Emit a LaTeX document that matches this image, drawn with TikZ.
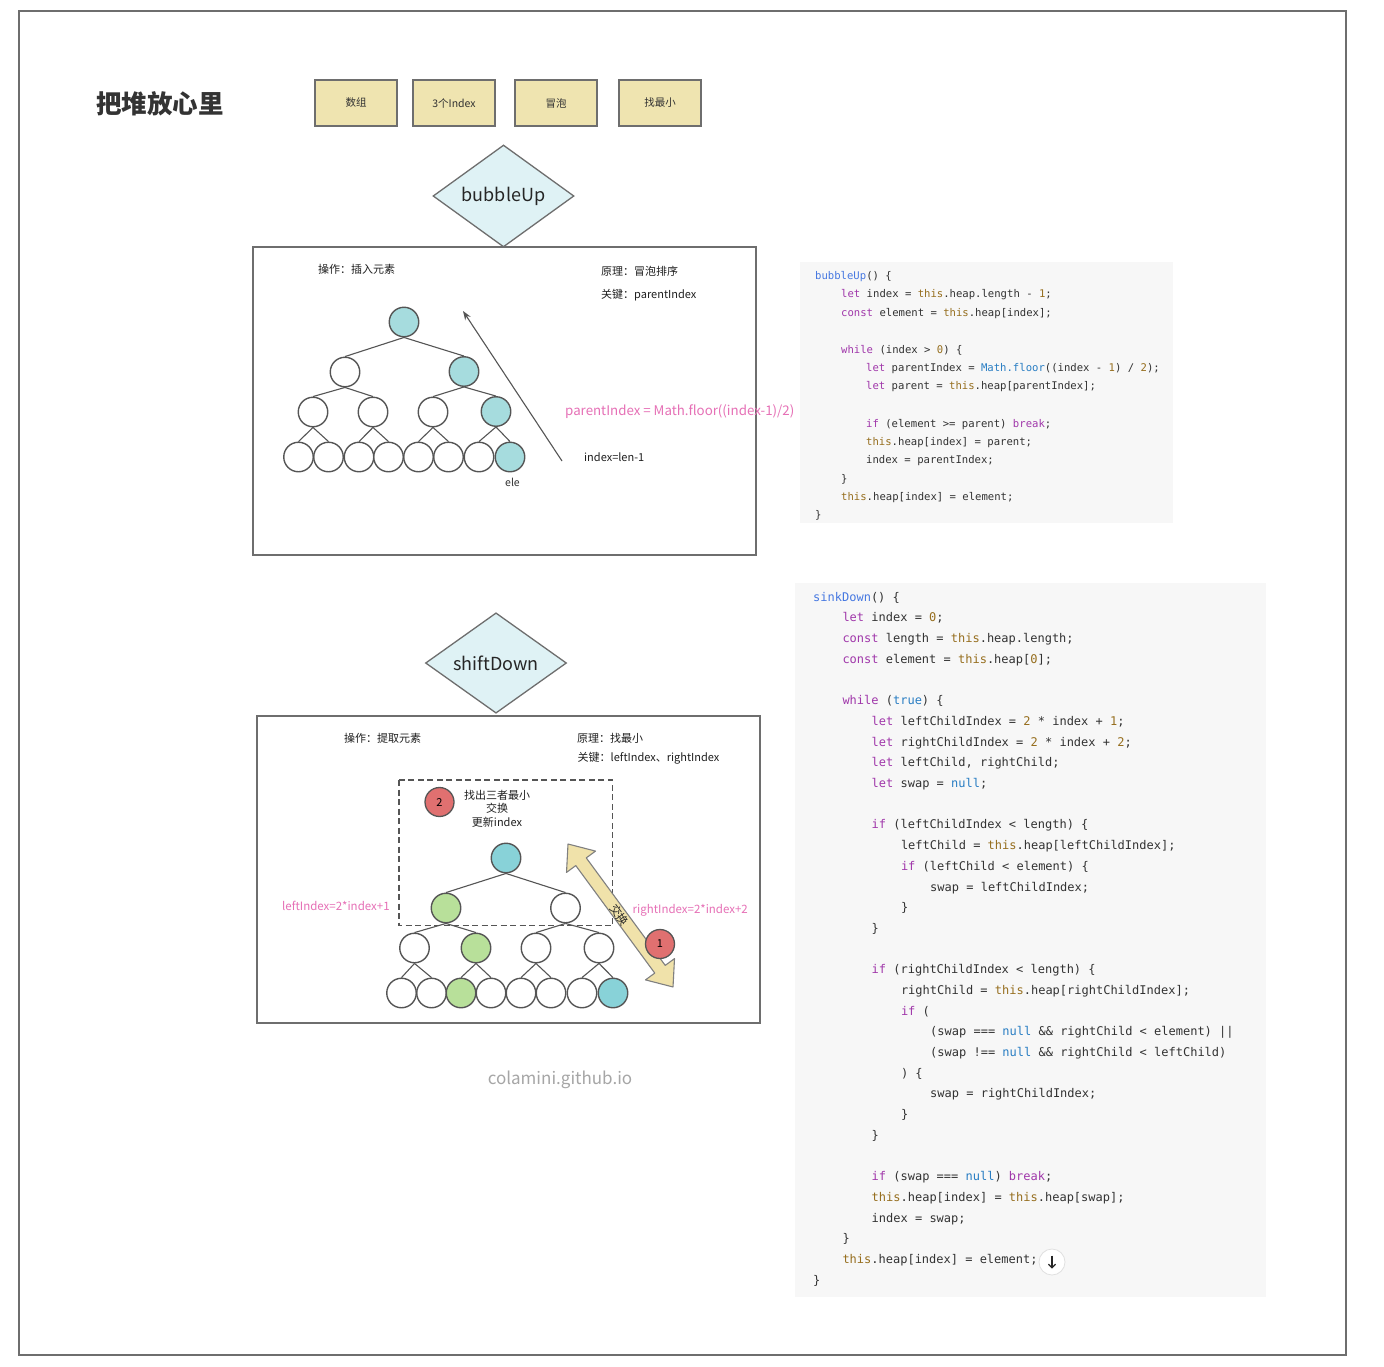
\documentclass[tikz,border=0pt]{standalone}
\usepackage{fontspec}
\setmainfont{Noto Sans CJK SC}
\newfontfamily\codefont{DejaVu Sans Mono}
\usetikzlibrary{shapes.geometric,arrows.meta}
\definecolor{frame}{RGB}{110,110,110}
\definecolor{ybox}{RGB}{239,228,176}
\definecolor{dia}{RGB}{223,242,245}
\definecolor{cyanA}{RGB}{166,220,222}
\definecolor{cyanB}{RGB}{136,210,216}
\definecolor{greenA}{RGB}{184,224,154}
\definecolor{redA}{RGB}{224,112,112}
\definecolor{pinkA}{RGB}{230,112,182}
\definecolor{arrowfill}{RGB}{240,226,170}
\definecolor{codebg}{RGB}{247,247,247}
\definecolor{ctext}{RGB}{50,50,50}
\definecolor{ckw}{RGB}{160,55,170}
\definecolor{cth}{RGB}{150,110,30}
\definecolor{cbl}{RGB}{40,125,195}
\definecolor{cfn}{RGB}{70,120,225}
\definecolor{lgray}{RGB}{85,85,85}
\newcommand\kw[1]{\textcolor{ckw}{#1}}
\newcommand\cth[1]{\textcolor{cth}{#1}}
\newcommand\cbl[1]{\textcolor{cbl}{#1}}
\newcommand\cfn[1]{\textcolor{cfn}{#1}}
\tikzset{
  ybx/.style={draw=frame, line width=1.4pt, fill=ybox, minimum width=82pt, minimum height=46pt, inner sep=0pt, font=\fontsize{10.5}{12}\selectfont, text=ctext},
  dmd/.style={diamond, draw=frame, line width=1.3pt, fill=dia, minimum width=141pt, minimum height=100pt, inner sep=0pt, font=\fontsize{18}{20}\selectfont, text=black!85},
  panel/.style={draw=frame, line width=1.6pt, inner sep=0pt},
  lbl/.style={anchor=west, inner sep=0pt, font=\fontsize{11}{13}\selectfont, text=black!88},
  pk/.style={anchor=west, inner sep=0pt, text=pinkA},
  hn/.style={circle, draw=lgray, line width=1.4pt, minimum size=29.5pt, inner sep=0pt, fill=white},
  hedge/.style={draw=lgray, line width=1.1pt},
  rn/.style={circle, draw=lgray, line width=1.3pt, minimum size=29pt, inner sep=0pt, fill=redA, font=\fontsize{11}{12}\selectfont},
  codeA/.style={anchor=base west, inner sep=0pt, text=ctext, font=\codefont\fontsize{10.6}{12}\selectfont},
  codeB/.style={anchor=base west, inner sep=0pt, text=ctext, font=\codefont\fontsize{12}{14}\selectfont},
}
\begin{document}
\begin{tikzpicture}[x=1pt,y=-1pt]
\useasboundingbox (0,0) rectangle (1384,1366);
\fill[white] (0,0) rectangle (1384,1366);
\draw[frame, line width=1.6pt] (19,11) rectangle (1346,1355);

% title and boxes
\node[inner sep=0pt, font=\fontsize{25.5}{28}\selectfont\bfseries, text=black!80] (title) at (160,104) {把堆放心里};
\node[ybx] (k1) at (356,103) {数组};
\node[ybx] (k2) at (454,103) {3个Index};
\node[ybx] (k3) at (556,103) {冒泡};
\node[ybx] (k4) at (660,103) {找最小};

% ---------- bubbleUp ----------
\node[panel, minimum width=503pt, minimum height=308pt] (box1) at (504.5,401) {};
\node[dmd] (bu) at (503.5,196) {bubbleUp};
\node[lbl] (op1) at (318,269.5) {操作：插入元素};
\node[lbl] (pr1) at (601,271.5) {原理：冒泡排序};
\node[lbl] (key1) at (601,295) {关键：parentIndex};

\node[hn, fill=cyanA] (a1) at (404,322) {};
\node[hn] (b1) at (345,372) {};
\node[hn, fill=cyanA] (b2) at (464,371.5) {};
\node[hn] (c1) at (313,412) {};
\node[hn] (c2) at (373,412) {};
\node[hn] (c3) at (433,412) {};
\node[hn, fill=cyanA] (c4) at (496,411.5) {};
\node[hn] (d1) at (298.5,457) {};
\node[hn] (d2) at (328.5,457) {};
\node[hn] (d3) at (359,457) {};
\node[hn] (d4) at (388.5,457) {};
\node[hn] (d5) at (418.5,457) {};
\node[hn] (d6) at (448.5,457) {};
\node[hn] (d7) at (479,457) {};
\node[hn, fill=cyanA] (d8) at (510,457) {};
\foreach \p/\c in {a1/b1,a1/b2,b1/c1,b1/c2,b2/c3,b2/c4,c1/d1,c1/d2,c2/d3,c2/d4,c3/d5,c3/d6,c4/d7,c4/d8}
  \draw[hedge] (\p.south) -- (\c.north);
\node[inner sep=0pt, font=\fontsize{10.5}{12}\selectfont, text=black!80] (ele) at (512.5,482) {ele};

\coordinate (ptail) at (562,461);
\coordinate (phead) at (463,311);
\draw[draw=lgray, line width=1.1pt, -{Stealth[length=9pt,width=6.5pt]}] (ptail) -- (phead);
\node[pk, font=\fontsize{13.3}{15}\selectfont] (pfl) at (565,412) {parentIndex = Math.floor((index-1)/2)};
\node[lbl] (len1) at (584,457) {index=len-1};

% ---------- shiftDown ----------
\node[panel, minimum width=503pt, minimum height=307pt] (box2) at (508.5,869.5) {};
\node[dmd] (sd) at (496,663) {shiftDown};
\node[lbl] (op2) at (344,738) {操作：提取元素};
\node[lbl] (pr2) at (577,738) {原理：找最小};
\node[lbl] (key2) at (577.5,758) {关键：leftIndex、rightIndex};

\draw[draw=lgray, line width=1.6pt, dash pattern=on 6pt off 3.5pt] (399,780) rectangle (612.5,925.5);
\node[rn] (r2) at (439.5,802) {2};
\node[inner sep=0pt, align=center, font=\fontsize{11}{13.4}\selectfont, text=black!88] (find) at (497,808.5) {找出三者最小\\交换\\更新index};

\node[hn, fill=cyanB] (e1) at (506,858) {};
\node[hn, fill=greenA] (f1) at (446,908) {};
\node[hn] (f2) at (565.5,908) {};
\node[hn] (g1) at (414.5,948) {};
\node[hn, fill=greenA] (g2) at (476,948) {};
\node[hn] (g3) at (536,948) {};
\node[hn] (g4) at (599,948) {};
\node[hn] (h1) at (401.5,993) {};
\node[hn] (h2) at (431.5,993) {};
\node[hn, fill=greenA] (h3) at (461,993) {};
\node[hn] (h4) at (491,993) {};
\node[hn] (h5) at (521,993) {};
\node[hn] (h6) at (551,993) {};
\node[hn] (h7) at (582,993) {};
\node[hn, fill=cyanB] (h8) at (613,993) {};
\foreach \p/\c in {e1/f1,e1/f2,f1/g1,f1/g2,f2/g3,f2/g4,g1/h1,g1/h2,g2/h3,g2/h4,g3/h5,g3/h6,g4/h7,g4/h8}
  \draw[hedge] (\p.south) -- (\c.north);

\node[pk, font=\fontsize{11.5}{13}\selectfont] (lix) at (282,906) {leftIndex=2*index+1};
\node[pk, font=\fontsize{11.5}{13}\selectfont] (rix) at (632.5,910) {rightIndex=2*index+2};

\begin{scope}[shift={(568,844)}, rotate=-53.7]
  \draw[draw=gray, line width=1.1pt, fill=arrowfill, line join=round]
    (0,0) -- (22,18) -- (22,6.5) -- (155.4,6.5) -- (155.4,18) -- (177.4,0)
    -- (155.4,-18) -- (155.4,-6.5) -- (22,-6.5) -- (22,-18) -- cycle;
\end{scope}
\node[inner sep=0pt, rotate=-53.7, font=\fontsize{11.5}{12}\selectfont, text=black!85] (swp) at (619.5,915) {交换};
\node[rn] (r1) at (660,944) {1};

\node[inner sep=0pt, font=\fontsize{17}{19}\selectfont, text=black!35] (foot) at (560,1080) {colamini.github.io};

% ---------- code 1 ----------
\fill[codebg] (800,262) rectangle (1173,523);
\node[codeA] (a01) at (815,279.4) {\cfn{bubbleUp}() \{};
\node[codeA] (a02) at (841,297.7) {\kw{let} index = \cth{this}.heap.length - \cth{1};};
\node[codeA] (a03) at (841,316.4) {\kw{const} element = \cth{this}.heap[index];};
\node[codeA] (a04) at (841,353.0) {\kw{while} (index > \cth{0}) \{};
\node[codeA] (a05) at (866,371.4) {\kw{let} parentIndex = \cbl{Math.floor}((index - \cth{1}) / \cth{2});};
\node[codeA] (a06) at (866,389.7) {\kw{let} parent = \cth{this}.heap[parentIndex];};
\node[codeA] (a07) at (866,427.0) {\kw{if} (element >= parent) \kw{break};};
\node[codeA] (a08) at (866,445.0) {\cth{this}.heap[index] = parent;};
\node[codeA] (a09) at (866,463.4) {index = parentIndex;};
\node[codeA] (a10) at (841,482.0) {\}};
\node[codeA] (a11) at (841,500.4) {\cth{this}.heap[index] = element;};
\node[codeA] (a12) at (815,518.7) {\}};

% ---------- code 2 ----------
\fill[codebg] (795,583) rectangle (1266,1297);
\node[codeB] (s00) at (813,601.2) {\cfn{sinkDown}() \{};
\node[codeB] (s01) at (842.3,621.9) {\kw{let} index = \cth{0};};
\node[codeB] (s02) at (842.3,642.6) {\kw{const} length = \cth{this}.heap.length;};
\node[codeB] (s03) at (842.3,663.3) {\kw{const} element = \cth{this}.heap[\cth{0}];};
\node[codeB] (s05) at (842.3,704.7) {\kw{while} (\cbl{true}) \{};
\node[codeB] (s06) at (871.5,725.4) {\kw{let} leftChildIndex = \cth{2} * index + \cth{1};};
\node[codeB] (s07) at (871.5,746.1) {\kw{let} rightChildIndex = \cth{2} * index + \cth{2};};
\node[codeB] (s08) at (871.5,766.8) {\kw{let} leftChild, rightChild;};
\node[codeB] (s09) at (871.5,787.5) {\kw{let} swap = \cbl{null};};
\node[codeB] (s11) at (871.5,828.9) {\kw{if} (leftChildIndex < length) \{};
\node[codeB] (s12) at (900.8,849.6) {leftChild = \cth{this}.heap[leftChildIndex];};
\node[codeB] (s13) at (900.8,870.3) {\kw{if} (leftChild < element) \{};
\node[codeB] (s14) at (930,891.0) {swap = leftChildIndex;};
\node[codeB] (s15) at (900.8,911.7) {\}};
\node[codeB] (s16) at (871.5,932.4) {\}};
\node[codeB] (s18) at (871.5,973.7) {\kw{if} (rightChildIndex < length) \{};
\node[codeB] (s19) at (900.8,994.4) {rightChild = \cth{this}.heap[rightChildIndex];};
\node[codeB] (s20) at (900.8,1015.1) {\kw{if} (};
\node[codeB] (s21) at (930,1035.8) {(swap === \cbl{null} \&\& rightChild < element) ||};
\node[codeB] (s22) at (930,1056.5) {(swap !== \cbl{null} \&\& rightChild < leftChild)};
\node[codeB] (s23) at (900.8,1077.2) {) \{};
\node[codeB] (s24) at (930,1097.9) {swap = rightChildIndex;};
\node[codeB] (s25) at (900.8,1118.6) {\}};
\node[codeB] (s26) at (871.5,1139.3) {\}};
\node[codeB] (s28) at (871.5,1180.7) {\kw{if} (swap === \cbl{null}) \kw{break};};
\node[codeB] (s29) at (871.5,1201.4) {\cth{this}.heap[index] = \cth{this}.heap[swap];};
\node[codeB] (s30) at (871.5,1222.1) {index = swap;};
\node[codeB] (s31) at (842.3,1242.8) {\}};
\node[codeB] (s32) at (842.3,1263.5) {\cth{this}.heap[index] = element;};
\node[codeB] (s33) at (813,1284.2) {\}};

% scroll button
\node[circle, draw=black!12, line width=0.8pt, fill=white, minimum size=26pt, inner sep=0pt] (btn) at (1052,1262) {};
\coordinate (btop) at (1052,1255.5);
\coordinate (bbot) at (1052,1268.5);
\draw[line width=1.2pt, black!85, -{Straight Barb[length=3.5pt,width=7pt]}] (btop) -- (bbot);
\end{tikzpicture}
\end{document}
